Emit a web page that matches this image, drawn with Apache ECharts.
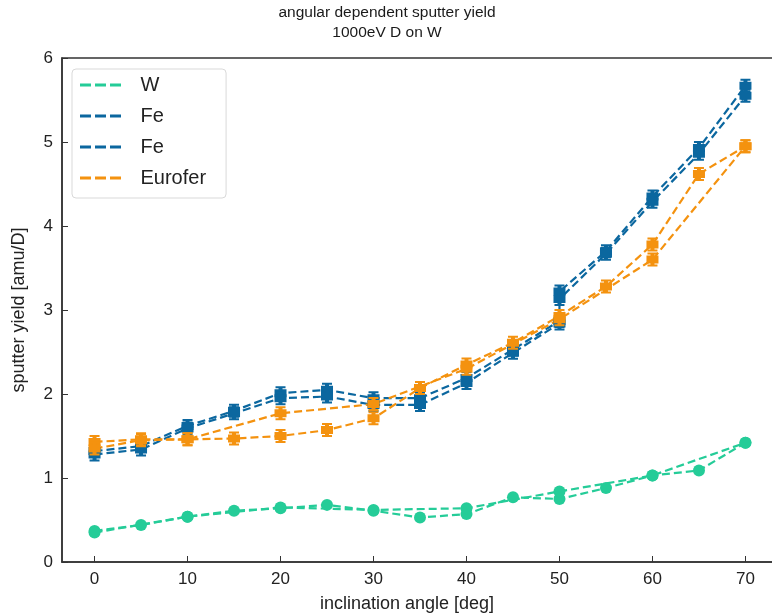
<!DOCTYPE html>
<html><head><meta charset="utf-8">
<script src="https://cdn.jsdelivr.net/npm/echarts@6/dist/echarts.min.js"></script>
<style>html,body{margin:0;padding:0;background:#fff}#c{width:772px;height:616px}</style>
</head><body><div id="c"></div>
<script>
// ---- data ----
const xTicks = [0, 10, 20, 30, 40, 50, 60, 70];
const yTicks = [0, 1, 2, 3, 4, 5, 6];

const wAnglesA = [0, 5, 10, 15, 20, 25, 30, 35, 40, 45, 50, 55, 60, 65, 70];
const wValuesA = [0.37, 0.44, 0.54, 0.61, 0.64, 0.68, 0.61, 0.53, 0.57, 0.77, 0.75, 0.88, 1.03, 1.09, 1.42];
const wAnglesB = [0, 10, 20, 30, 40, 50, 60, 70];
const wValuesB = [0.35, 0.54, 0.65, 0.62, 0.64, 0.84, 1.03, 1.42];

const feAngles = [0, 5, 10, 15, 20, 25, 30, 35, 40, 45, 50, 50, 55, 60, 65, 70];
const fe1Values = [1.32, 1.38, 1.62, 1.80, 2.01, 2.05, 1.95, 1.95, 2.19, 2.53, 2.87, 3.22, 3.70, 4.35, 4.93, 5.67];
const fe2Values = [1.28, 1.34, 1.59, 1.77, 1.95, 1.97, 1.87, 1.87, 2.13, 2.49, 2.84, 3.13, 3.67, 4.29, 4.86, 5.55];

const euAnglesA = [0, 5, 10, 15, 20, 25, 30, 35, 40, 45, 50, 55, 60, 65, 70];
const euValuesA = [1.43, 1.46, 1.46, 1.47, 1.50, 1.57, 1.71, 2.07, 2.35, 2.61, 2.93, 3.28, 3.78, 4.62, 4.95];
const euAnglesB = [0, 5, 10, 20, 30, 40, 50, 60, 70];
const euValuesB = [1.35, 1.45, 1.46, 1.77, 1.88, 2.30, 2.89, 3.60, 4.95];

// ---- styling ----
const GREEN = '#25cc98', BLUE = '#0b679f', ORANGE = '#f4920f';
const FONT = '"Liberation Sans", Arial, sans-serif';
const errSquare = 'path://M1,0H11V2H8V3H12V11H8V12H11V14H1V12H4V11H0V3H4V2H1Z';
const dashIcon = 'path://M0,0H11V3H0Z M15,0H26V3H15Z M30,0H41V3H30Z';
const pairs = (xs, ys) => xs.map((x, i) => [x, ys[i]]);

function mk(name, xs, ys, color, symbol, size) {
  return {
    name, type: 'line', data: pairs(xs, ys),
    symbol, symbolSize: size, showSymbol: true,
    itemStyle: { color },
    lineStyle: { color, width: 2.2, type: [8, 4] },
    emphasis: { disabled: true }, animation: false, z: 2
  };
}

const chart = echarts.init(document.getElementById('c'), null, { renderer: 'canvas' });
chart.setOption({
  animation: false,
  backgroundColor: '#fff',
  textStyle: { fontFamily: FONT },
  grid: { left: 62, top: 58, width: 716, height: 504, outerBoundsMode: 'none', containLabel: false,
          show: true, borderColor: '#333', borderWidth: 1.5, backgroundColor: 'transparent' },
  graphic: [{
    type: 'text', x: 387, y: 3, z: 10,
    style: { text: 'angular dependent sputter yield\n1000eV D on W', fontSize: 15.5, fontFamily: FONT, fill: '#1a1a1a', align: 'center', verticalAlign: 'top', lineHeight: 20 }
  }],
  legend: {
    left: 72, top: 69, orient: 'vertical',
    data: [
      { name: 'W', icon: dashIcon },
      { name: 'Fe', icon: dashIcon },
      { name: 'Fe ', icon: dashIcon },
      { name: 'Eurofer', icon: dashIcon }
    ],
    itemWidth: 42, itemHeight: 3, itemGap: 11,
    padding: [6, 20, 10, 8],
    borderColor: '#d9d9d9', borderWidth: 1, borderRadius: 4, backgroundColor: '#fff',
    textStyle: { fontSize: 20, color: '#222', fontFamily: FONT, lineHeight: 20, padding: [0, 0, 0, 14] },
    selectedMode: false
  },
  xAxis: {
    type: 'value', min: -3.5, max: 73.5,
    name: 'inclination angle [deg]', nameLocation: 'middle', nameGap: 33,
    nameTextStyle: { fontSize: 18, color: '#222', fontFamily: FONT, padding: [0, 26, 0, 0] },
    axisLine: { show: true, onZero: false, lineStyle: { color: '#333', width: 1.5 } },
    axisTick: { show: true, inside: true, length: 6, customValues: xTicks, lineStyle: { color: '#333' } },
    axisLabel: { show: true, customValues: xTicks, fontSize: 17, color: '#222', margin: 9, fontFamily: FONT },
    splitLine: { show: false }
  },
  yAxis: {
    type: 'value', min: 0, max: 6, interval: 1,
    name: 'sputter yield [amu/D]', nameLocation: 'middle', nameGap: 34, nameRotate: 90,
    nameTextStyle: { fontSize: 18, color: '#222', fontFamily: FONT },
    axisLine: { show: true, onZero: false, lineStyle: { color: '#333', width: 1.5 } },
    axisTick: { show: true, inside: true, length: 6, customValues: yTicks, lineStyle: { color: '#333' } },
    axisLabel: { show: true, customValues: yTicks, fontSize: 17, color: '#222', margin: 9, fontFamily: FONT },
    splitLine: { show: false }
  },
  series: [
    mk('W', wAnglesA, wValuesA, GREEN, 'circle', 12),
    mk('W b', wAnglesB, wValuesB, GREEN, 'circle', 12),
    mk('Fe', feAngles, fe1Values, BLUE, errSquare, [12, 14]),
    mk('Fe ', feAngles, fe2Values, BLUE, errSquare, [12, 14]),
    mk('Eurofer', euAnglesA, euValuesA, ORANGE, errSquare, [12, 14]),
    mk('Eurofer b', euAnglesB, euValuesB, ORANGE, errSquare, [12, 14])
  ]
});
</script>
</body></html>
